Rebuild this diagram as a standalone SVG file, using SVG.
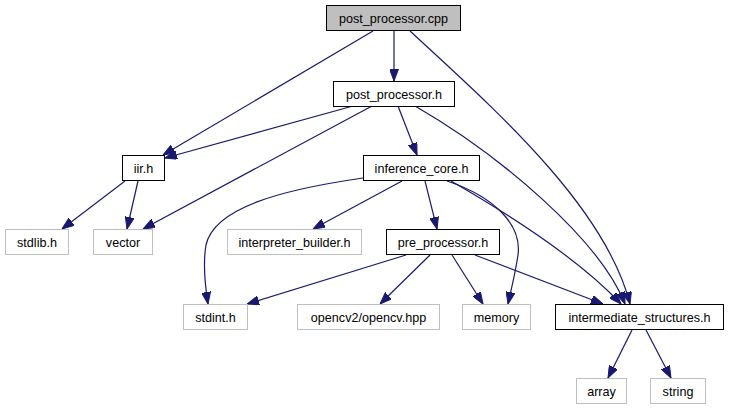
<svg xmlns="http://www.w3.org/2000/svg" width="729" height="411" viewBox="0 0 729 411">
<defs>
<style>
.n rect{fill:#ffffff;stroke:#000000;stroke-width:1}
.g rect{fill:#ffffff;stroke:#bfbfbf;stroke-width:1}
.h rect{fill:#bfbfbf;stroke:#000000;stroke-width:1}
text{font-family:"Liberation Sans",Arial,sans-serif;font-size:12.6px;fill:#000000;text-anchor:middle}
.e path{fill:none;stroke:#191970;stroke-width:1.2;marker-end:url(#a)}
</style>
<marker id="a" viewBox="0 0 12 9" refX="12" refY="4.5" markerWidth="12" markerHeight="9" markerUnits="userSpaceOnUse" orient="auto">
<path d="M0,0 L12,4.5 L0,9 z" fill="#191970" stroke="#191970" stroke-width="1"/>
</marker>
</defs>
<rect width="729" height="411" fill="#ffffff"/>
<g id="edges" class="e">
<path d="M394,31 L394,81"/>
<path d="M373,31 L163,155"/>
<path d="M410,31 C490,105 605,205 630,304"/>
<path d="M353,106 L165,158"/>
<path d="M372,106 L143,229"/>
<path d="M398,106 L417,155"/>
<path d="M415,106 C500,155 600,240 625,304"/>
<path d="M125,181 L62,229"/>
<path d="M138,181 L127,229"/>
<path d="M363,178 C280,190 214,208 206,245 C203,262 205,285 208,304"/>
<path d="M402,181 L313,229"/>
<path d="M425,181 L437,229"/>
<path d="M447,181 C495,197 522,225 518,255 C515,275 511,290 508,304"/>
<path d="M451,181 C510,215 580,260 621,304"/>
<path d="M406,255 L247,304"/>
<path d="M430,255 L380,304"/>
<path d="M452,255 L483,304"/>
<path d="M475,255 L603,304"/>
<path d="M632,330 L608,378"/>
<path d="M646,330 L671,378"/>
</g>
<g id="post_processor_cpp" class="h"><rect x="326.5" y="5.5" width="134" height="25"/><text x="393.5" y="22.5">post_processor.cpp</text></g>
<g id="post_processor_h" class="n"><rect x="333.5" y="81.5" width="121" height="25"/><text x="394" y="98.5">post_processor.h</text></g>
<g id="iir_h" class="n"><rect x="122.5" y="155.5" width="42" height="25"/><text x="143.5" y="172.5">iir.h</text></g>
<g id="inference_core_h" class="n"><rect x="363.5" y="155.5" width="116" height="25"/><text x="421.5" y="172.5">inference_core.h</text></g>
<g id="stdlib_h" class="g"><rect x="5.5" y="229.5" width="63" height="25"/><text x="37" y="246.5">stdlib.h</text></g>
<g id="vector" class="g"><rect x="93.5" y="229.5" width="59" height="25"/><text x="123" y="246.5">vector</text></g>
<g id="interpreter_builder_h" class="g"><rect x="227.5" y="229.5" width="134" height="25"/><text x="294.5" y="246.5">interpreter_builder.h</text></g>
<g id="pre_processor_h" class="n"><rect x="386.5" y="229.5" width="113" height="25"/><text x="443" y="246.5">pre_processor.h</text></g>
<g id="stdint_h" class="g"><rect x="183.5" y="304.5" width="64" height="25"/><text x="215.5" y="321.5">stdint.h</text></g>
<g id="opencv_hpp" class="g"><rect x="297.5" y="304.5" width="142" height="25"/><text x="368.5" y="321.5">opencv2/opencv.hpp</text></g>
<g id="memory" class="g"><rect x="462.5" y="304.5" width="68" height="25"/><text x="496.5" y="321.5">memory</text></g>
<g id="intermediate_structures_h" class="n"><rect x="555.5" y="304.5" width="168" height="25"/><text x="639.5" y="321.5">intermediate_structures.h</text></g>
<g id="array" class="g"><rect x="576.5" y="378.5" width="50" height="25"/><text x="601.5" y="395.5">array</text></g>
<g id="string" class="g"><rect x="650.5" y="378.5" width="55" height="25"/><text x="678" y="395.5">string</text></g>
</svg>
